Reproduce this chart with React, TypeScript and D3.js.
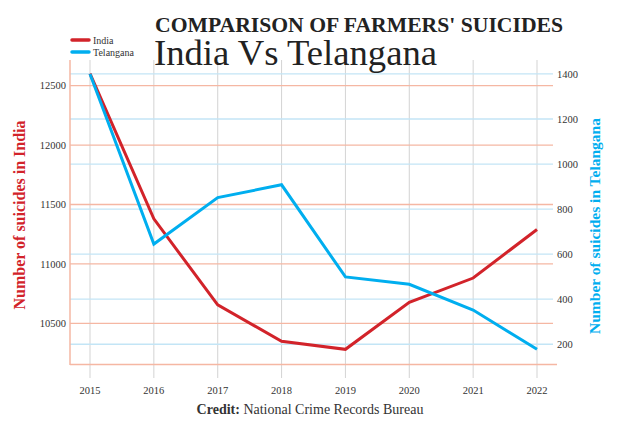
import React from "react";
import * as d3 from "d3";

const years = [2015, 2016, 2017, 2018, 2019, 2020, 2021, 2022];
const india = [12602, 11379, 10655, 10349, 10281, 10677, 10881, 11290];
const telangana = [1400, 645, 851, 908, 499, 466, 352, 178];
const indiaTicks = [10500, 11000, 11500, 12000, 12500];
const telTicks = [200, 400, 600, 800, 1000, 1200, 1400];

const RED = "#d2232a";
const BLUE = "#00aeef";
const SALMON = "#f5b7a3";
const LIGHTBLUE = "#c3e5f6";
const FONT = "'Liberation Serif', 'DejaVu Serif', serif";

export default function App() {
  const W = 620, H = 423;
  const x = d3.scaleLinear().domain([2015, 2022]).range([90, 537]);
  const yI = d3.scaleLinear().domain([10155, 12716]).range([364.3, 60]);
  const yT = d3.scaleLinear().domain([111, 1462]).range([364.3, 60]);
  const lineI = d3.line<number>().x((_, i) => x(years[i])).y((d) => yI(d));
  const lineT = d3.line<number>().x((_, i) => x(years[i])).y((d) => yT(d));
  const left = 70, right = 553;
  return (
    <svg width={W} height={H} style={{ display: "block", position: "absolute", left: 0, top: 0, fontFamily: FONT }}>
      <rect width={W} height={H} fill="#fff" />
      {years.map((yr) => (
        <line key={yr} x1={x(yr)} x2={x(yr)} y1={60} y2={378} stroke="#c8c8c8" strokeWidth={0.8} />
      ))}
      {telTicks.map((t) => (
        <line key={t} x1={left} x2={right} y1={yT(t)} y2={yT(t)} stroke={LIGHTBLUE} strokeWidth={1.3} />
      ))}
      {indiaTicks.map((t) => (
        <line key={t} x1={left} x2={right} y1={yI(t)} y2={yI(t)} stroke={SALMON} strokeWidth={1.3} />
      ))}
      <line x1={left} x2={left} y1={60} y2={365} stroke={SALMON} strokeWidth={1.5} />
      <line x1={left} x2={557} y1={364.5} y2={364.5} stroke={SALMON} strokeWidth={1.5} />
      {indiaTicks.map((t) => (
        <text key={t} x={66} y={yI(t)} dy="0.35em" textAnchor="end" fontSize={10.5} fill="#333" fontFamily={FONT}>{t}</text>
      ))}
      {telTicks.map((t) => (
        <text key={t} x={557} y={yT(t)} dy="0.35em" textAnchor="start" fontSize={10.5} fill="#333" fontFamily={FONT}>{t}</text>
      ))}
      {years.map((yr) => (
        <text key={yr} x={x(yr)} y={390} dy="0.35em" textAnchor="middle" fontSize={10.5} fill="#333" fontFamily={FONT}>{yr}</text>
      ))}
      <path d={lineI(india) || ""} fill="none" stroke={RED} strokeWidth={3} strokeLinejoin="miter" />
      <path d={lineT(telangana) || ""} fill="none" stroke={BLUE} strokeWidth={3} strokeLinejoin="miter" />
      <text transform="translate(25,215) rotate(-90)" textAnchor="middle" fontSize={16} fontWeight="bold" fill={RED} fontFamily={FONT}>Number of suicides in India</text>
      <text transform="translate(600,226) rotate(-90)" textAnchor="middle" fontSize={15.5} fontWeight="bold" fill={BLUE} fontFamily={FONT}>Number of suicides in Telangana</text>
      <text x={155} y={32} fontSize={21} fontWeight="bold" fill="#222" textLength={408} lengthAdjust="spacingAndGlyphs" fontFamily={FONT}>COMPARISON OF FARMERS' SUICIDES</text>
      <text x={154} y={65} fontSize={35} fill="#222" textLength={283} lengthAdjust="spacingAndGlyphs" fontFamily={FONT}>India Vs Telangana</text>
      <line x1={72} x2={89} y1={40} y2={40} stroke={RED} strokeWidth={3.5} strokeLinecap="round" />
      <text x={93} y={40} dy="0.35em" fontSize={10} fill="#333" fontFamily={FONT}>India</text>
      <line x1={72} x2={89} y1={52} y2={52} stroke={BLUE} strokeWidth={3.5} strokeLinecap="round" />
      <text x={93} y={52} dy="0.35em" fontSize={10} fill="#333" fontFamily={FONT}>Telangana</text>
      <text x={310} y={409} dy="0.35em" textAnchor="middle" fontSize={14} fill="#333" fontFamily={FONT}>
        <tspan fontWeight="bold">Credit:</tspan> National Crime Records Bureau
      </text>
    </svg>
  );
}
